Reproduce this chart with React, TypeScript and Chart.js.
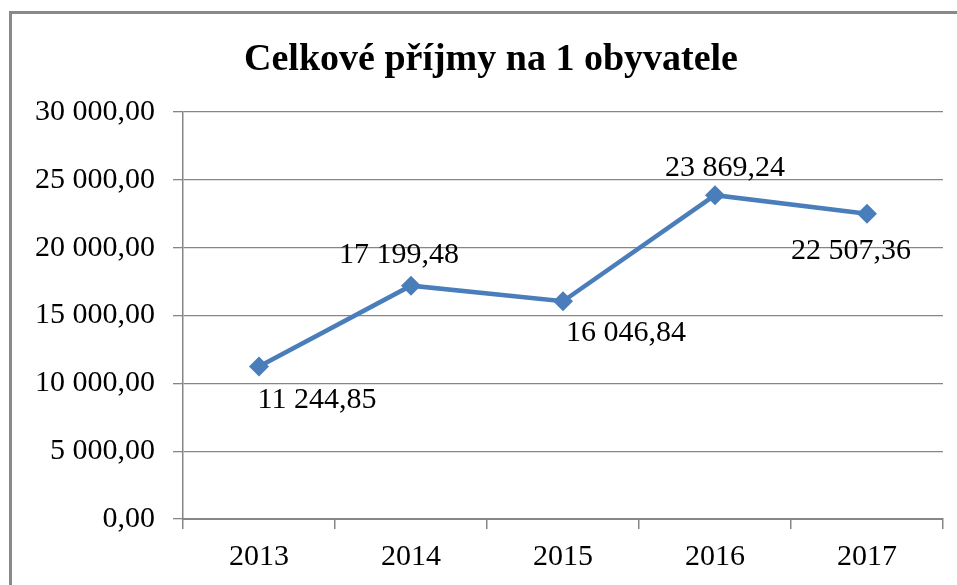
import React, { useEffect, useRef } from "react";
import { Chart, registerables } from "chart.js";

Chart.register(...registerables);

const categories = ["2013", "2014", "2015", "2016", "2017"];
const values = [11244.85, 17199.48, 16046.84, 23869.24, 22507.36];
const yTicks = [0, 5000, 10000, 15000, 20000, 25000, 30000];
const titleText = "Celkové příjmy na 1 obyvatele";

// label placement (dx, dy) relative to each point, in pixels
const labelOffsets: [number, number][] = [
  [58, 34],
  [-12, -31],
  [63, 32],
  [10, -27],
  [-16, 37],
];

const FONT = "'Liberation Serif', 'Times New Roman', serif";

function fmt(v: number): string {
  const [i, d] = v.toFixed(2).split(".");
  const g = i.replace(/\B(?=(\d{3})+(?!\d))/g, " ");
  return g + "," + d;
}

const framePlugin = {
  id: "frame",
  beforeDraw(chart: any) {
    const ctx = chart.ctx;
    ctx.save();
    ctx.fillStyle = "#ffffff";
    ctx.fillRect(0, 0, chart.width, chart.height);
    ctx.strokeStyle = "#898989";
    ctx.lineWidth = 3;
    ctx.strokeRect(10.5, 12.5, 2000, 2000);
    ctx.font = `bold 38px ${FONT}`;
    ctx.fillStyle = "#000000";
    ctx.textAlign = "center";
    ctx.textBaseline = "alphabetic";
    ctx.fillText(titleText, 491, 70);
    ctx.restore();
  },
};

const labelPlugin = {
  id: "pointLabels",
  afterDatasetsDraw(chart: any) {
    const ctx = chart.ctx;
    const meta = chart.getDatasetMeta(0);
    ctx.save();
    ctx.font = `30px ${FONT}`;
    ctx.fillStyle = "#000000";
    ctx.textAlign = "center";
    ctx.textBaseline = "middle";
    meta.data.forEach((pt: any, i: number) => {
      const [dx, dy] = labelOffsets[i];
      ctx.fillText(fmt(values[i]), pt.x + dx, pt.y + dy);
    });
    ctx.restore();
  },
};

export default function App() {
  const ref = useRef<HTMLCanvasElement>(null);
  useEffect(() => {
    document.body.style.margin = "0";
    const chart = new Chart(ref.current!, {
      type: "line",
      data: {
        labels: categories,
        datasets: [
          {
            data: values,
            borderColor: "#4a7ebb",
            backgroundColor: "#4a7ebb",
            borderWidth: 4.5,
            pointStyle: "rectRot",
            pointRadius: 10,
            pointBorderWidth: 0,
            pointBackgroundColor: "#4a7ebb",
            tension: 0,
          },
        ],
      },
      options: {
        responsive: false,
        animation: false,
        layout: { padding: { left: 0, right: 14, top: 112, bottom: 0 } },
        plugins: {
          legend: { display: false },
          tooltip: { enabled: false },
          title: { display: false },
        },
        scales: {
          x: {
            offset: true,
            grid: {
              offset: true,
              drawOnChartArea: false,
              drawTicks: true,
              tickLength: 10,
              color: "#868686",
              lineWidth: 1.5,
            },
            border: { color: "#868686", width: 2 },
            ticks: {
              color: "#000000",
              font: { family: FONT, size: 30 },
              padding: 10,
              maxRotation: 0,
            },
            afterFit(scale: any) {
              scale.height = 66;
            },
          },
          y: {
            min: 0,
            max: 30000,
            afterBuildTicks(scale: any) {
              scale.ticks = yTicks.map((v) => ({ value: v }));
            },
            grid: {
              color: "#868686",
              lineWidth: 1.3,
              tickLength: 10,
            },
            border: { color: "#868686", width: 1.5 },
            ticks: {
              color: "#000000",
              font: { family: FONT, size: 30 },
              padding: 18,
              callback: (v: any) => fmt(Number(v)),
            },
            afterFit(scale: any) {
              scale.width = 183;
            },
          },
        },
      },
      plugins: [framePlugin, labelPlugin],
    });
    return () => chart.destroy();
  }, []);
  return <canvas ref={ref} width={957} height={585} style={{ display: "block" }} />;
}
